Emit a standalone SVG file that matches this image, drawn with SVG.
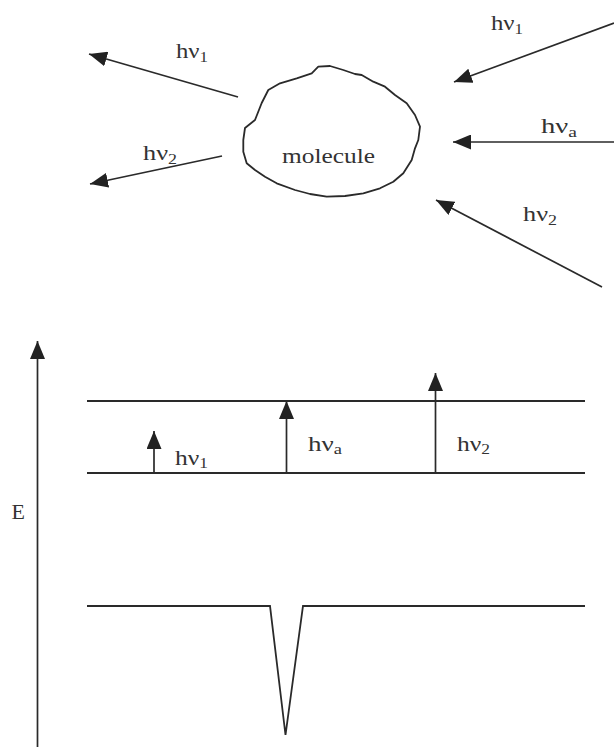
<svg xmlns="http://www.w3.org/2000/svg" width="614" height="747" viewBox="0 0 614 747">
<style>
.ln{stroke:#2a2a2a;stroke-width:1.8;fill:none}
.ar{stroke:#2a2a2a;stroke-width:1.7;fill:none;marker-end:url(#ah)}
.t{font-family:"Liberation Serif","Times New Roman",serif;font-size:22px;fill:#333}
.s{font-size:15px}
</style>
<defs>
<marker id="ah" markerUnits="userSpaceOnUse" markerWidth="19" markerHeight="15" refX="18" refY="7.5" orient="auto">
<path d="M0,0 L18,7.5 L0,15 z" fill="#222"/>
</marker>
</defs>
<rect width="614" height="747" fill="#fff"/>
<g id="molecule">
<path class="ln" d="M245,128 L255,120 L261.7,103 L268.3,90 L280,83.3 L296.7,78.3 L311.7,73.3 L318.3,66.7 L330,66 L343.3,70 L355,74 L361.7,75 L373.3,81.7 L385,86.7 L395,95 L406.7,103.3 L415,115 L420,126.7 L418.3,140 L415,148.3 L411.7,160 L403.3,173.3 L393.3,181.7 L380,188.3 L363.3,193.3 L345,196 L326.7,196.7 L310,194 L295,190 L276.7,183.3 L265,176.7 L255,170 L246.7,163.3 L243.3,151.7 L243.3,140 Z" stroke-linejoin="round"/>
<text class="t" x="282" y="163" textLength="93" lengthAdjust="spacingAndGlyphs">molecule</text>
</g>
<g id="connectors">
<line class="ar" x1="238" y1="97" x2="89" y2="54"/>
<line class="ar" x1="222" y1="156" x2="90" y2="184"/>
<line class="ar" x1="614" y1="23" x2="454" y2="82"/>
<line class="ar" x1="614" y1="142" x2="453" y2="142"/>
<line class="ar" x1="602" y1="287" x2="436" y2="200"/>
<line class="ar" x1="37.5" y1="747" x2="37.5" y2="341"/>
<line class="ar" x1="154" y1="473" x2="154" y2="431"/>
<line class="ar" x1="286.5" y1="473" x2="286.5" y2="401"/>
<line class="ar" x1="435.5" y1="473" x2="435.5" y2="373"/>
</g>
<g id="levels">
<line class="ln" x1="87" y1="401" x2="585" y2="401"/>
<line class="ln" x1="87" y1="473" x2="585" y2="473"/>
<polyline class="ln" points="87,606 270,606 285.5,735 303,606 585,606" stroke-linejoin="miter"/>
</g>
<g id="labels">
<text class="t" x="176" y="58" textLength="32" lengthAdjust="spacingAndGlyphs">hν<tspan class="s" dy="4">1</tspan></text>
<text class="t" x="143" y="160" textLength="34" lengthAdjust="spacingAndGlyphs">hν<tspan class="s" dy="4">2</tspan></text>
<text class="t" x="491" y="30" textLength="32" lengthAdjust="spacingAndGlyphs">hν<tspan class="s" dy="4">1</tspan></text>
<text class="t" x="541" y="133" textLength="36" lengthAdjust="spacingAndGlyphs">hν<tspan class="s" dy="4">a</tspan></text>
<text class="t" x="523" y="221" textLength="34" lengthAdjust="spacingAndGlyphs">hν<tspan class="s" dy="4">2</tspan></text>
<text class="t" x="175" y="465" textLength="33" lengthAdjust="spacingAndGlyphs">hν<tspan class="s" dy="3">1</tspan></text>
<text class="t" x="308" y="451" textLength="34" lengthAdjust="spacingAndGlyphs">hν<tspan class="s" dy="3">a</tspan></text>
<text class="t" x="457" y="451" textLength="33" lengthAdjust="spacingAndGlyphs">hν<tspan class="s" dy="3">2</tspan></text>
<text class="t" x="11.5" y="519">E</text>
</g>
</svg>
